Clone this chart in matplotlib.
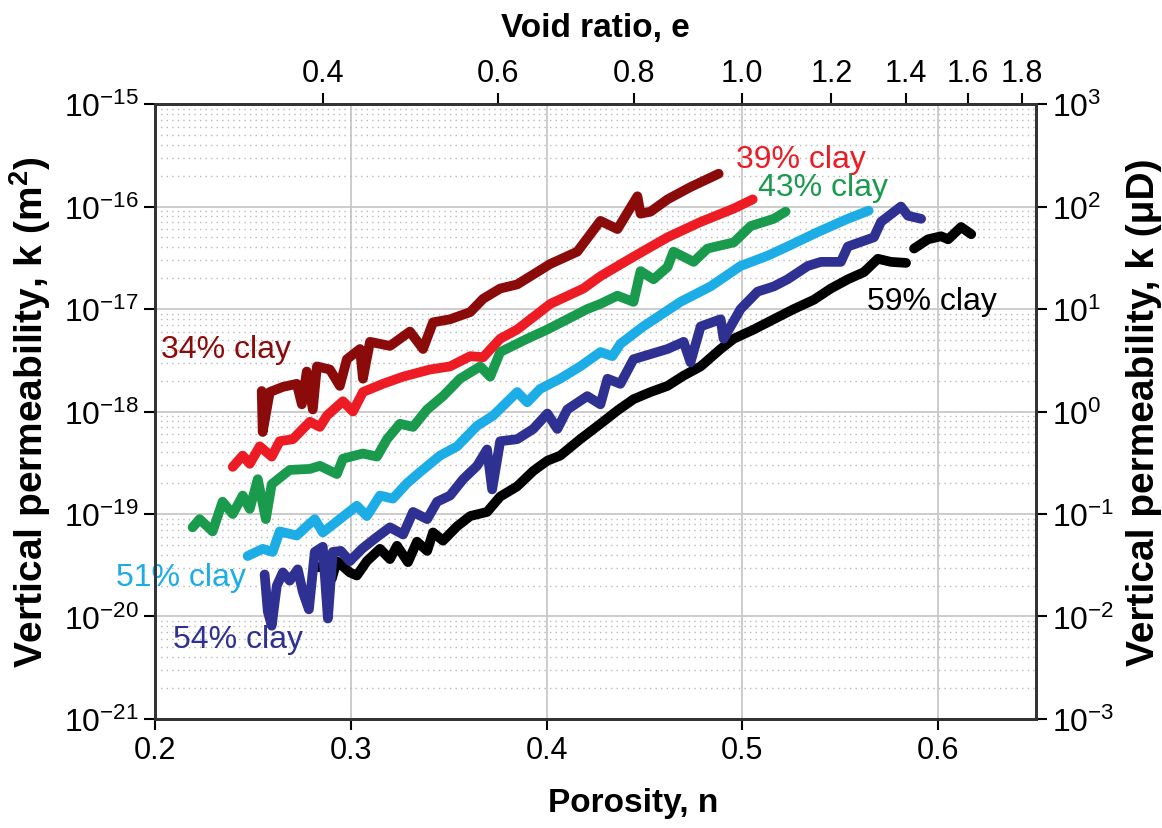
import numpy as np
import matplotlib
matplotlib.use("Agg")
import matplotlib.pyplot as plt
from matplotlib.ticker import NullFormatter

plt.rcParams['font.family'] = ['Liberation Sans', 'DejaVu Sans']
plt.rcParams['mathtext.fontset'] = 'custom'
plt.rcParams['mathtext.rm'] = 'Liberation Sans'
plt.rcParams['mathtext.bf'] = 'Liberation Sans:bold'
plt.rcParams['axes.unicode_minus'] = False

# porosity n and log10 of permeability k (m^2)
n_34 = [0.2545, 0.2550, 0.2586, 0.2653, 0.2724, 0.2750, 0.2775, 0.2806, 0.2827, 0.2893,
        0.2944, 0.2980, 0.3047, 0.3062, 0.3098, 0.3200, 0.3302, 0.3369, 0.3420, 0.3507,
        0.3610, 0.3676, 0.3763, 0.3850, 0.4019, 0.4157, 0.4275, 0.4362, 0.4464, 0.4480,
        0.4531, 0.4618, 0.4735, 0.4879]
logk_34 = [-17.80, -18.20, -17.81, -17.76, -17.73, -17.93, -17.61, -17.98, -17.56, -17.59,
           -17.75, -17.49, -17.39, -17.68, -17.32, -17.36, -17.22, -17.39, -17.13, -17.10,
           -17.03, -16.90, -16.80, -16.76, -16.56, -16.44, -16.14, -16.22, -15.90, -16.07,
           -16.05, -15.93, -15.81, -15.68]

n_39 = [0.2397, 0.2448, 0.2484, 0.2535, 0.2596, 0.2637, 0.2704, 0.2791, 0.2842, 0.2878,
        0.2960, 0.3011, 0.3062, 0.3164, 0.3267, 0.3405, 0.3507, 0.3610, 0.3676, 0.3763,
        0.3850, 0.4019, 0.4188, 0.4275, 0.4444, 0.4618, 0.4787, 0.4956, 0.5053]
logk_39 = [-18.54, -18.43, -18.51, -18.34, -18.44, -18.29, -18.27, -18.10, -18.15, -18.04,
           -17.90, -18.00, -17.81, -17.73, -17.66, -17.59, -17.56, -17.46, -17.47, -17.29,
           -17.20, -16.95, -16.80, -16.68, -16.49, -16.30, -16.15, -16.02, -15.93]

n_43 = [0.2192, 0.2228, 0.2294, 0.2345, 0.2397, 0.2448, 0.2484, 0.2525, 0.2566, 0.2596,
        0.2688, 0.2791, 0.2842, 0.2929, 0.2960, 0.3062, 0.3134, 0.3185, 0.3251, 0.3318,
        0.3390, 0.3471, 0.3558, 0.3661, 0.3712, 0.3763, 0.3901, 0.4004, 0.4106, 0.4208,
        0.4275, 0.4362, 0.4444, 0.4480, 0.4546, 0.4618, 0.4648, 0.4751, 0.4822, 0.4956,
        0.5043, 0.5160, 0.5221]
logk_43 = [-19.13, -19.05, -19.17, -18.88, -19.00, -18.82, -18.95, -18.66, -19.05, -18.71,
           -18.57, -18.56, -18.53, -18.61, -18.46, -18.41, -18.44, -18.27, -18.12, -18.15,
           -17.98, -17.85, -17.68, -17.56, -17.66, -17.42, -17.29, -17.20, -17.10, -17.00,
           -16.95, -16.87, -16.93, -16.63, -16.71, -16.59, -16.44, -16.54, -16.41, -16.35,
           -16.19, -16.12, -16.05]

n_51 = [0.2473, 0.2550, 0.2601, 0.2637, 0.2724, 0.2775, 0.2816, 0.2857, 0.2944, 0.3031,
        0.3082, 0.3149, 0.3215, 0.3287, 0.3354, 0.3456, 0.3543, 0.3645, 0.3727, 0.3850,
        0.3901, 0.3967, 0.4069, 0.4172, 0.4275, 0.4336, 0.4377, 0.4494, 0.4684, 0.4837,
        0.4991, 0.5129, 0.5231, 0.5384, 0.5538, 0.5645]
logk_51 = [-19.41, -19.34, -19.37, -19.17, -19.21, -19.12, -19.05, -19.18, -19.05, -18.92,
           -19.02, -18.82, -18.85, -18.70, -18.59, -18.43, -18.34, -18.14, -18.04, -17.81,
           -17.91, -17.78, -17.68, -17.56, -17.42, -17.46, -17.34, -17.17, -16.93, -16.78,
           -16.58, -16.48, -16.39, -16.25, -16.12, -16.04]

n_54 = [0.2560, 0.2576, 0.2596, 0.2622, 0.2653, 0.2688, 0.2729, 0.2755, 0.2786, 0.2816,
        0.2857, 0.2883, 0.2908, 0.2949, 0.2995, 0.3057, 0.3123, 0.3200, 0.3267, 0.3318,
        0.3390, 0.3441, 0.3507, 0.3574, 0.3645, 0.3696, 0.3722, 0.3763, 0.3850, 0.3932,
        0.4004, 0.4055, 0.4106, 0.4208, 0.4275, 0.4311, 0.4377, 0.4444, 0.4618, 0.4700,
        0.4735, 0.4787, 0.4889, 0.4904, 0.4991, 0.5078, 0.5160, 0.5231, 0.5334, 0.5401,
        0.5503, 0.5539, 0.5672, 0.5708, 0.5810, 0.5846, 0.5913]
logk_54 = [-19.59, -19.95, -20.09, -19.70, -19.57, -19.65, -19.54, -19.76, -19.93, -19.37,
           -19.32, -20.02, -19.37, -19.36, -19.46, -19.34, -19.24, -19.13, -19.20, -18.98,
           -19.05, -18.88, -18.82, -18.66, -18.53, -18.37, -18.76, -18.29, -18.27, -18.17,
           -18.02, -18.17, -17.98, -17.85, -17.93, -17.68, -17.73, -17.49, -17.39, -17.32,
           -17.52, -17.17, -17.10, -17.29, -17.00, -16.83, -16.78, -16.71, -16.58, -16.54,
           -16.54, -16.39, -16.30, -16.15, -16.00, -16.09, -16.12]

n_59 = [0.2832, 0.2867, 0.2903, 0.2929, 0.2995, 0.3031, 0.3082, 0.3149, 0.3200, 0.3236,
        0.3292, 0.3338, 0.3390, 0.3420, 0.3471, 0.3543, 0.3610, 0.3696, 0.3763, 0.3850,
        0.3932, 0.4004, 0.4070, 0.4172, 0.4275, 0.4362, 0.4444, 0.4531, 0.4618, 0.4700,
        0.4787, 0.4889, 0.4956, 0.5058, 0.5160, 0.5263, 0.5365, 0.5452, 0.5539, 0.5621,
        0.5692, 0.5759, 0.5836, np.nan, 0.5877, 0.5948, 0.6015, 0.6051, 0.6117, 0.6169]
logk_59 = [-19.52, -19.51, -19.63, -19.46, -19.57, -19.60, -19.46, -19.34, -19.44, -19.31,
           -19.47, -19.27, -19.36, -19.18, -19.26, -19.12, -19.02, -18.98, -18.83, -18.73,
           -18.58, -18.48, -18.43, -18.27, -18.12, -17.99, -17.88, -17.81, -17.75, -17.65,
           -17.56, -17.39, -17.29, -17.20, -17.10, -17.00, -16.91, -16.80, -16.71, -16.64,
           -16.51, -16.54, -16.55, np.nan, -16.41, -16.32, -16.29, -16.32, -16.20, -16.27]

series = [
    (n_59, logk_59, 'black', '59% clay', (0.5636, -16.92)),
    (n_54, logk_54, '#2e3192', '54% clay', (0.2090, -20.22)),
    (n_51, logk_51, '#1cace6', '51% clay', (0.1803, -19.61)),
    (n_43, logk_43, '#1a9a4c', '43% clay', (0.5078, -15.81)),
    (n_39, logk_39, '#ed1c24', '39% clay', (0.4966, -15.54)),
    (n_34, logk_34, '#8b0b0b', '34% clay', (0.2033, -17.39)),
]

void_ticks = [0.4, 0.6, 0.8, 1.0, 1.2, 1.4, 1.6, 1.8]

fig = plt.figure(figsize=(11.62, 8.29), dpi=100)
ax = fig.add_axes([0.1334, 0.1315, 0.7582, 0.7418])

for n, lk, col, lab, pos in series:
    k = 10.0 ** np.array(lk)
    ax.plot(n, k, color=col, lw=7, solid_joinstyle='round', solid_capstyle='round', zorder=3)
    ax.text(pos[0], 10.0 ** pos[1], lab, color=col, fontsize=23, va='center', ha='left',
            clip_on=False, zorder=4)

ax.set_yscale('log')
ax.set_xlim(0.2, 0.65)
ax.set_ylim(1e-21, 1e-15)
ax.set_xticks([0.2, 0.3, 0.4, 0.5, 0.6])
ax.set_xticklabels(['0.2', '0.3', '0.4', '0.5', '0.6'])
ax.yaxis.set_minor_formatter(NullFormatter())
ax.grid(which='major', color='#c8c8c8', lw=1.3)
ax.yaxis.grid(which='minor', color='#b8b8b8', lw=1.0, ls=(0, (1, 3)))
ax.tick_params(which='major', direction='out', length=8, width=1.5, labelsize=22)
ax.tick_params(axis='y', which='major', labelsize=23)
ax.tick_params(which='minor', length=0)
for s in ax.spines.values():
    s.set_linewidth(2)
    s.set_color('#333333')
ax.set_xlabel('Porosity, n', fontsize=24, fontweight='bold')
ax.xaxis.set_label_coords(0.543, -0.11)
ax.set_ylabel(r'Vertical permeability, k (m$^{\mathbf{2}}$)', fontsize=28, fontweight='bold', labelpad=8)

# right axis in microdarcy
ax2 = ax.twinx()
ax2.set_yscale('log')
ax2.set_ylim(1e-3, 1e3)
ax2.yaxis.set_minor_formatter(NullFormatter())
ax2.tick_params(which='major', direction='out', length=8, width=1.5, labelsize=23)
ax2.tick_params(which='minor', length=0)
ax2.set_ylabel('Vertical permeability, k (μD)', fontsize=28, fontweight='bold', labelpad=8)
for s in ax2.spines.values():
    s.set_linewidth(2)
    s.set_color('#333333')

# top axis: void ratio
top = ax.secondary_xaxis('top', functions=(lambda n: n / (1 - n), lambda e: e / (1 + e)))
top.set_xticks(void_ticks)
top.set_xticklabels(['%.1f' % v for v in void_ticks])
top.tick_params(direction='out', length=8, width=1.5, labelsize=22)
top.set_xlabel('Void ratio, e', fontsize=24, fontweight='bold', labelpad=16)

fig.savefig('out.png', dpi=100)
